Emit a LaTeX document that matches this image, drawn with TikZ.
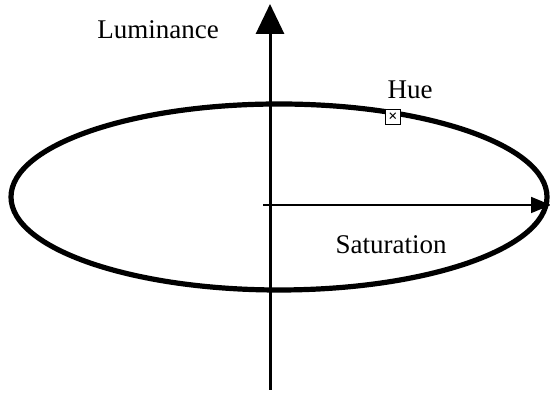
\documentclass[tikz,border=0pt]{standalone}
\usepackage{fontspec}
\setmainfont{Liberation Serif}
\usepackage{tikz}
\usetikzlibrary{positioning,arrows.meta}

\begin{document}
\begin{tikzpicture}[x=0.5pt,y=0.5pt,
 lbl/.style={font=\fontsize{13.5}{15}\selectfont,inner sep=0pt},
 huebox/.style={draw,fill=white,line width=0.5pt,minimum size=7.5pt,inner sep=0pt,font=\fontsize{8}{8}\selectfont}]
\useasboundingbox (0,0) rectangle (550,394);
\draw[line width=2.6pt] (279,197) ellipse [x radius=268, y radius=93];
\coordinate (lumbot) at (270,4);
\coordinate (lumtop) at (270,390);
\coordinate (satstart) at (263,189);
\coordinate (satend) at (551,189);
\draw[line width=1.5pt,-{Triangle[length=15pt,width=14pt]}] (lumbot) -- (lumtop);
\draw[line width=0.8pt,-{Triangle[length=10pt,width=8pt]}] (satstart) -- (satend);
\node[huebox] (hue) at (393,277) {\textbf{×}};
\node[lbl] (huelbl) at (410,304) {Hue};
\node[lbl] (lum) at (158,364) {Luminance};
\node[lbl] (sat) at (391,149) {Saturation};
\end{tikzpicture}
\end{document}
